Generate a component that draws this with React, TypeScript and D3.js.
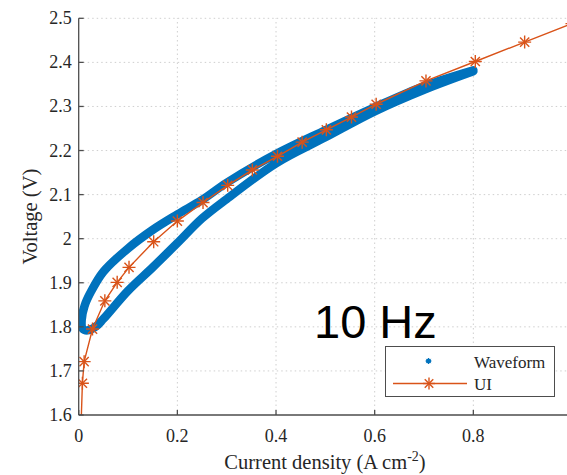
import React from "react";
import * as d3 from "d3";

const W = 567;
const H = 475;

const xTicks = [0, 0.2, 0.4, 0.6, 0.8];
const yTicks = [1.6, 1.7, 1.8, 1.9, 2.0, 2.1, 2.2, 2.3, 2.4, 2.5];
const yTickLabels = ["1.6", "1.7", "1.8", "1.9", "2", "2.1", "2.2", "2.3", "2.4", "2.5"];

// UI curve (orange, star markers)
const uiX = [0.004, 0.0075, 0.011, 0.028, 0.053, 0.078, 0.102, 0.152, 0.2, 0.252, 0.302, 0.352, 0.403, 0.453, 0.502, 0.553, 0.603, 0.704, 0.804, 0.904, 1.0];
const uiY = [1.55, 1.672, 1.721, 1.795, 1.859, 1.901, 1.935, 1.993, 2.04, 2.082, 2.121, 2.156, 2.187, 2.219, 2.247, 2.276, 2.305, 2.358, 2.402, 2.446, 2.488];

// Waveform hysteresis loop (blue), traced from the upper end, down the upper branch, round the tip, back along the lower branch
const waveX = [0.8, 0.7, 0.6, 0.5, 0.4, 0.3, 0.25, 0.2, 0.15, 0.1, 0.05, 0.025, 0.012, 0.006, 0.008, 0.018, 0.034, 0.05, 0.1, 0.15, 0.2, 0.25, 0.3, 0.4, 0.5, 0.6, 0.7, 0.8];
const waveY = [2.382, 2.346, 2.298, 2.246, 2.192, 2.127, 2.088, 2.055, 2.02, 1.978, 1.925, 1.88, 1.848, 1.815, 1.796, 1.792, 1.8, 1.818, 1.882, 1.935, 1.99, 2.046, 2.09, 2.171, 2.23, 2.289, 2.338, 2.38];

const BLUE = "#0072BD";
const ORANGE = "#D95319";
const AXIS = "#4d4d4d";
const TXT = "#262626";
const SERIF = "Liberation Serif, Times New Roman, DejaVu Serif, serif";
const SANS = "Liberation Sans, Arial, Helvetica, sans-serif";

function Star({ cx, cy, r, color, sw }: { cx: number; cy: number; r: number; color: string; sw: number }) {
  const d = r * Math.SQRT1_2;
  return (
    <g stroke={color} strokeWidth={sw} fill="none">
      <line x1={cx - r} y1={cy} x2={cx + r} y2={cy} />
      <line x1={cx} y1={cy - r} x2={cx} y2={cy + r} />
      <line x1={cx - d} y1={cy - d} x2={cx + d} y2={cy + d} />
      <line x1={cx - d} y1={cy + d} x2={cx + d} y2={cy - d} />
    </g>
  );
}

export default function App() {
  const x = d3.scaleLinear().domain([0, 1]).range([78.7, 572]);
  const y = d3.scaleLinear().domain([1.6, 2.5]).range([415, 18.3]);

  const ui = uiX.map((v, i) => [v, uiY[i]] as [number, number]);
  const wave = waveX.map((v, i) => [v, waveY[i]] as [number, number]);

  const lineGen = d3
    .line<[number, number]>()
    .x((d) => x(d[0]))
    .y((d) => y(d[1]));
  const waveGen = d3
    .line<[number, number]>()
    .x((d) => x(d[0]))
    .y((d) => y(d[1]))
    .curve(d3.curveCatmullRom.alpha(0.5));

  const x0 = x(0);
  const y0 = y(1.6);
  const yTop = y(2.5);
  const serifStyle = { fontFamily: SERIF };

  return (
    <svg width={W} height={H} style={{ position: "absolute", left: 0, top: 0, background: "#fff" }}>
      <defs>
        <clipPath id="plot">
          <rect x={x0} y={yTop - 10} width={W - x0} height={y0 - yTop + 10} />
        </clipPath>
      </defs>
      <rect x={0} y={0} width={W} height={H} fill="#fff" />
      {/* grid */}
      <g stroke="#cfcfcf" strokeWidth={1} strokeDasharray="1.5,3">
        {xTicks.slice(1).map((t) => (
          <line key={"gx" + t} x1={x(t)} x2={x(t)} y1={y0} y2={yTop} />
        ))}
        {yTicks.slice(1).map((t) => (
          <line key={"gy" + t} x1={x0} x2={W} y1={y(t)} y2={y(t)} />
        ))}
      </g>
      {/* data */}
      <g clipPath="url(#plot)">
        <path d={waveGen(wave) || ""} fill="none" stroke={BLUE} strokeWidth={8.5} strokeLinecap="round" strokeLinejoin="round" />
        <path d={lineGen(ui) || ""} fill="none" stroke={ORANGE} strokeWidth={1.4} />
        {ui.map((p, i) => (
          <Star key={i} cx={x(p[0])} cy={y(p[1])} r={6.5} color={ORANGE} sw={1.4} />
        ))}
      </g>
      {/* axes */}
      <g stroke={AXIS} strokeWidth={1.3}>
        <line x1={x0} x2={x0} y1={yTop} y2={y0} />
        <line x1={x0} x2={W} y1={y0} y2={y0} />
        {xTicks.map((t) => (
          <line key={"tx" + t} x1={x(t)} x2={x(t)} y1={y0} y2={y0 - 5} />
        ))}
        {yTicks.map((t) => (
          <line key={"ty" + t} x1={x0} x2={x0 + 5} y1={y(t)} y2={y(t)} />
        ))}
      </g>
      <g fill={TXT}>
        {xTicks.map((t) => (
          <text key={"lx" + t} x={x(t)} y={y0 + 27} textAnchor="middle" style={{ ...serifStyle, fontSize: 18 }}>
            {t === 0 ? "0" : t.toFixed(1)}
          </text>
        ))}
        {yTicks.map((t, i) => (
          <text key={"ly" + t} x={x0 - 7} y={y(t) + 6} textAnchor="end" style={{ ...serifStyle, fontSize: 18 }}>
            {yTickLabels[i]}
          </text>
        ))}
        <text x={325} y={469} textAnchor="middle" style={{ ...serifStyle, fontSize: 20.5 }}>
          Current density (A cm
          <tspan dy={-8} style={{ fontSize: 14 }}>-2</tspan>
          <tspan dy={8}>)</tspan>
        </text>
        <text
          transform={`translate(37,${(y0 + yTop) / 2}) rotate(-90)`}
          textAnchor="middle"
          style={{ ...serifStyle, fontSize: 20.5 }}
        >
          Voltage (V)
        </text>
      </g>
      {/* annotation */}
      <text x={314} y={338} fill="#000" style={{ fontFamily: SANS, fontSize: 47 }}>
        10 Hz
      </text>
      {/* legend */}
      <g>
        <rect x={385.5} y={346.5} width={169} height={50} fill="#fff" stroke={AXIS} strokeWidth={1} />
        <circle cx={428.5} cy={361} r={2.5} fill={BLUE} />
        <Star cx={428.5} cy={361} r={3} color={BLUE} sw={1} />
        <line x1={393} x2={467} y1={383.5} y2={383.5} stroke={ORANGE} strokeWidth={1.4} />
        <Star cx={429} cy={383.5} r={6} color={ORANGE} sw={1.4} />
        <g fill={TXT}>
          <text x={474} y={367.5} style={{ ...serifStyle, fontSize: 17 }}>Waveform</text>
          <text x={474} y={389.5} style={{ ...serifStyle, fontSize: 17 }}>UI</text>
        </g>
      </g>
    </svg>
  );
}
